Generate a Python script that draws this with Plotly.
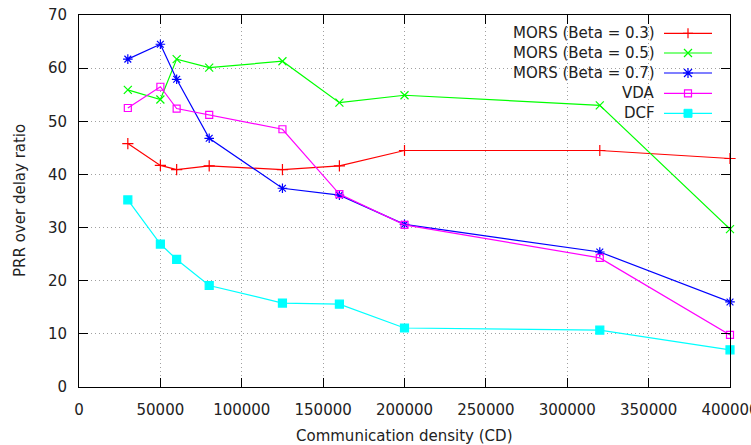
import plotly.graph_objects as go

cd = [30000, 50000, 60000, 80000, 125000, 160000, 200000, 320000, 400000]
mors_03 = [45.8, 41.7, 40.9, 41.6, 40.9, 41.6, 44.5, 44.5, 43.0]
mors_05 = [55.9, 54.1, 61.7, 60.1, 61.3, 53.5, 54.9, 53.0, 29.7]
mors_07 = [61.7, 64.5, 57.9, 46.8, 37.4, 36.1, 30.6, 25.4, 16.0]
vda = [52.5, 56.5, 52.4, 51.2, 48.5, 36.3, 30.5, 24.3, 9.8]
dcf = [35.2, 26.9, 24.0, 19.1, 15.8, 15.6, 11.1, 10.7, 7.0]

names = ["MORS (Beta = 0.3)", "MORS (Beta = 0.5)", "MORS (Beta = 0.7)", "VDA", "DCF"]
series = [mors_03, mors_05, mors_07, vda, dcf]
colors = ["#ff0000", "#00ff00", "#0000ff", "#ff00ff", "#00ffff"]
symbols = ["cross-thin-open", "x-thin-open", "asterisk-open", "square-open", "square"]
sizes = [8, 8, 8, 7, 8]

x_ticks = [0, 50000, 100000, 150000, 200000, 250000, 300000, 350000, 400000]
y_ticks = [0, 10, 20, 30, 40, 50, 60, 70]

FONT = "DejaVu Sans"
FS = 15
TXT = "#222"
W, H = 751, 445
L, R, T, B = 79, 21, 15, 58
PW, PH = W - L - R, H - T - B

def px(x):
    return (x - L) / PW

def py(y):
    return (H - B - y) / PH

fig = go.Figure()
for name, ys, c, s, sz in zip(names, series, colors, symbols, sizes):
    fig.add_trace(go.Scatter(
        x=cd, y=ys, name=name, mode="lines+markers",
        line=dict(color=c, width=1.2),
        marker=dict(symbol=s, size=sz, color=c, line=dict(color=c, width=1.2)),
        showlegend=False, cliponaxis=False,
    ))

shapes = []
annotations = []
# legend background (hides grid)
shapes.append(dict(type="rect", xref="paper", yref="paper", x0=px(495), x1=1, y0=py(125), y1=1,
                   fillcolor="white", line=dict(width=0), layer="between"))
row_y = [33.3, 53.0, 73.0, 93.3, 113.3]
for i, (name, c, s) in enumerate(zip(names, colors, symbols)):
    yy = py(row_y[i])
    annotations.append(dict(text=name, xref="paper", yref="paper", x=px(657), y=yy,
                            xanchor="right", yanchor="middle", showarrow=False,
                            font=dict(family=FONT, size=FS, color=TXT)))
    shapes.append(dict(type="line", xref="paper", yref="paper", x0=px(664), x1=px(712), y0=yy, y1=yy,
                       line=dict(color=c, width=1.2), layer="above"))
    xa = px(688)
    base = dict(type="path", xref="paper", yref="paper", xsizemode="pixel", ysizemode="pixel",
                xanchor=xa, yanchor=yy, layer="above")
    if s == "cross-thin-open":
        shapes.append(dict(base, path="M-5,0H5M0,-5V5", line=dict(color=c, width=1.2)))
    elif s == "x-thin-open":
        shapes.append(dict(base, path="M-4,-4L4,4M-4,4L4,-4", line=dict(color=c, width=1.2)))
    elif s == "asterisk-open":
        shapes.append(dict(base, path="M-5,0H5M0,-5V5M-4,-4L4,4M-4,4L4,-4", line=dict(color=c, width=1.2)))
    elif s == "square-open":
        shapes.append(dict(base, path="M-3.5,-3.5H3.5V3.5H-3.5Z", line=dict(color=c, width=1.2)))
    else:
        shapes.append(dict(base, path="M-4,-4H4V4H-4Z", fillcolor=c, line=dict(color=c, width=1)))

# axis titles
annotations.append(dict(text="Communication density (CD)", xref="paper", yref="paper",
                        x=0.5, y=py(436), xanchor="center", yanchor="middle", showarrow=False,
                        font=dict(family=FONT, size=FS, color=TXT)))
annotations.append(dict(text="PRR over delay ratio", xref="paper", yref="paper",
                        x=px(20), y=0.5, xanchor="center", yanchor="middle", showarrow=False,
                        textangle=-90, font=dict(family=FONT, size=FS, color=TXT)))

axis_common = dict(
    showline=True, linecolor="black", linewidth=1, mirror="ticks",
    ticks="inside", ticklen=9, tickcolor="black", tickwidth=1,
    showgrid=True, gridcolor="#a0a0a0", gridwidth=1, griddash="1px,3px",
    zeroline=False, tickfont=dict(family=FONT, size=FS, color=TXT),
    ticklabeloverflow="allow", automargin=False,
)

fig.update_layout(
    width=W, height=H,
    margin=dict(l=L, r=R, t=T, b=B, autoexpand=False),
    paper_bgcolor="white", plot_bgcolor="white",
    font=dict(family=FONT, size=FS, color=TXT),
    xaxis=dict(axis_common, range=[0, 400000], tickvals=x_ticks, ticklabelstandoff=9,
               tickformat="d"),
    yaxis=dict(axis_common, range=[0, 70], tickvals=y_ticks, ticklabelstandoff=8),
    shapes=shapes, annotations=annotations,
)

fig.write_html("out.html")
